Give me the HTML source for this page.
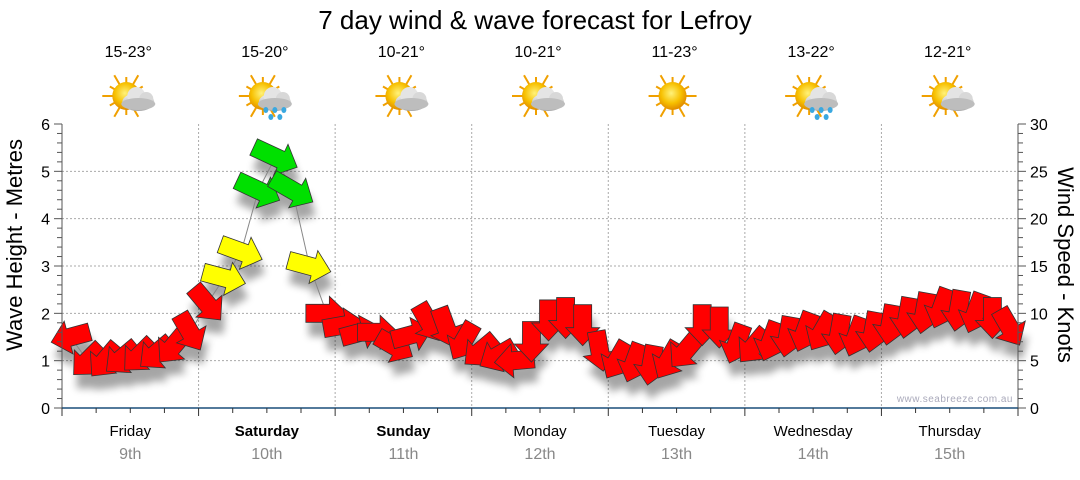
<!DOCTYPE html>
<html><head><meta charset="utf-8">
<style>
body{margin:0;background:#fff;width:1080px;height:475px;overflow:hidden;font-family:"Liberation Sans",sans-serif}
svg text{font-family:"Liberation Sans",sans-serif}
</style></head>
<body>
<svg id="c" width="1080" height="475">
<defs>
<filter id="sh" x="-50%" y="-50%" width="200%" height="200%"><feGaussianBlur stdDeviation="4"/></filter>
<radialGradient id="sun" cx="45%" cy="40%" r="60%"><stop offset="0" stop-color="#fff27a"/><stop offset="0.6" stop-color="#f7c000"/><stop offset="1" stop-color="#e08a00"/></radialGradient>
<linearGradient id="cl" x1="0" y1="0" x2="0" y2="1"><stop offset="0" stop-color="#f2f2f2"/><stop offset="1" stop-color="#a8a8a8"/></linearGradient>
</defs>
<text x="535" y="29" text-anchor="middle" font-size="26">7 day wind &amp; wave forecast for Lefroy</text>
<g id="grid"></g><g id="icons"></g><g id="shadow" filter="url(#sh)" opacity="0.35"></g><g id="marks"></g><g id="axes"></g>
<text x="1013" y="402" text-anchor="end" font-size="10" fill="#aab" letter-spacing="0.5">www.seabreeze.com.au</text>
<text transform="translate(22,245) rotate(-90)" text-anchor="middle" font-size="22">Wave Height - Metres</text>
<text transform="translate(1058,265) rotate(90)" text-anchor="middle" font-size="22">Wind Speed - Knots</text>
</svg>
<script>
const days=["Friday","Saturday","Sunday","Monday","Tuesday","Wednesday","Thursday"];
const dates=["9th","10th","11th","12th","13th","14th","15th"];
const temps=["15-23°","15-20°","10-21°","10-21°","11-23°","13-22°","12-21°"];
const weather=["cloud","rain","cloud","cloud","sun","rain","cloud"];
const waveTicks=[0,1,2,3,4,5,6];
const windTicks=[0,5,10,15,20,25,30];
const heights=[1.5,1.0,1.0,1.05,1.1,1.15,1.3,1.6, 2.2,2.75,3.3,4.6,5.3,4.6,3.0,2.0, 1.75,1.6,1.6,1.3,1.55,1.8,1.7,1.4, 1.2,1.1,1.0,1.4,1.85,1.9,1.75,1.2, 1.0,0.95,0.9,1.0,1.2,1.75,1.7,1.35, 1.3,1.4,1.5,1.6,1.6,1.55,1.5,1.6, 1.75,1.9,2.0,2.1,2.05,2.0,1.9,1.7];
const dirs=[165,135,130,140,135,140,130,60, 50,15,20,25,25,30,15,0, -10,-15,0,30,-15,60,70,120, 140,150,175,90,90,90,90,80, 120,110,100,120,130,90,90,110, 130,110,100,110,120,100,110,100, 100,100,100,110,100,110,90,60];
const speeds=[8,7,8,8,8,8,9,10, 12,16,17,22,24,22,16,11, 10,9,9,9,10,10,10,9, 8,8,8,9,10,10,10,9, 8,8,8,8,9,10,10,9, 8,9,9,9,9,9,9,9, 9,10,10,10,10,10,10,9];
const X0=62,X1=1018,Y0=408,Y1=124;
const xS=i=>X0+(i+0.5)*(X1-X0)/56;
const yS=v=>Y0-v*(Y0-Y1)/6;
const dayX=d=>X0+d*(X1-X0)/7;
const NS="http://www.w3.org/2000/svg";
function mk(p,t,a){const e=document.createElementNS(NS,t);for(const k in a)e.setAttribute(k,a[k]);p.appendChild(e);return e;}
const grid=document.getElementById('grid'),axes=document.getElementById('axes'),marks=document.getElementById('marks'),shadow=document.getElementById('shadow'),icons=document.getElementById('icons');
waveTicks.forEach((v,k)=>{
 if(v>0&&v<6){const g=mk(grid,'line',{x1:X0,x2:X1,y1:yS(v),y2:yS(v),stroke:'#aaa','stroke-dasharray':'2,2'});
 }
 const t=mk(axes,'text',{x:50,y:yS(v)+6,'text-anchor':'end','font-size':16});t.textContent=v;
 
 const t2=mk(axes,'text',{x:1030,y:yS(v)+6,'font-size':16});t2.textContent=windTicks[k];
 
});
for(let m=0;m<=30;m++){const y=yS(m*0.2);const L=m%5==0?8:5;
 mk(axes,'line',{x1:X0-L,x2:X0,y1:y,y2:y,stroke:'#555'});mk(axes,'line',{x1:X1,x2:X1+L,y1:y,y2:y,stroke:'#555'});}
mk(axes,'line',{x1:X0,x2:X0,y1:Y1,y2:Y0,stroke:'#555'});
mk(axes,'line',{x1:X1,x2:X1,y1:Y1,y2:Y0,stroke:'#555'});
mk(axes,'line',{x1:X0,x2:X1,y1:Y0,y2:Y0,stroke:'#1a4f7a','stroke-width':1.5});
for(let h=0;h<=28;h++){const x=X0+h*(X1-X0)/28;mk(axes,'line',{x1:x,x2:x,y1:Y0,y2:Y0+(h%4==0?8:5),stroke:'#333'});}
days.forEach((d,i)=>{
 if(i>0){const g=mk(grid,'line',{x1:dayX(i),x2:dayX(i),y1:Y1,y2:Y0,stroke:'#aaa','stroke-dasharray':'2,2'});
 }
 const cx=(dayX(i)+dayX(i+1))/2;
 const t=mk(axes,'text',{x:cx,y:436,'text-anchor':'middle','font-size':15,'font-weight':(i==1||i==2)?'bold':'normal'});t.textContent=d;
 
 const t2=mk(axes,'text',{x:cx,y:459,'text-anchor':'middle','font-size':16,fill:'#888'});t2.textContent=dates[i];
 
 const t3=mk(icons,'text',{x:cx-2,y:57,'text-anchor':'middle','font-size':16});t3.textContent=temps[i];
 
 const g=mk(icons,'g',{transform:`translate(${cx-4},96)`});
 
 for(let r=0;r<12;r++){const a=r*Math.PI/6;mk(g,'line',{x1:Math.cos(a)*12,y1:Math.sin(a)*12,x2:Math.cos(a)*(r%2?19:24),y2:Math.sin(a)*(r%2?19:24),stroke:'#f0a000','stroke-width':2});}
 mk(g,'circle',{cx:0,cy:0,r:14,fill:'url(#sun)'});
 if(weather[i]!='sun'){mk(g,'ellipse',{cx:12,cy:6,rx:16,ry:9,fill:'url(#cl)'});mk(g,'circle',{cx:10,cy:0,r:9,fill:'#e4e4e4'});mk(g,'circle',{cx:20,cy:3,r:7,fill:'#d8d8d8'});mk(g,'ellipse',{cx:12,cy:8,rx:17,ry:6,fill:'#bdbdbd'});}
 if(weather[i]=='rain'){[[3,14],[12,14],[21,14],[8,21],[17,21]].forEach(p=>mk(g,'ellipse',{cx:p[0],cy:p[1],rx:2.5,ry:3,fill:'#3aa8e0'}));}
});
let pts=heights.map((h,i)=>xS(i)+','+yS(h)).join(' ');
mk(marks,'polyline',{points:pts,fill:'none',stroke:'#888','stroke-width':1});
function arrowPath(L){const s=9,hw=17,hl=18;return `M${-L/2},${-s} L${L/2-hl},${-s} L${L/2-hl},${-hw} L${L/2},0 L${L/2-hl},${hw} L${L/2-hl},${s} L${-L/2},${s} Z`;}
heights.forEach((h,i)=>{
 const sp=speeds[i];const col=sp>=20?'#00e000':sp>=14?'#ffff00':'#ff0000';
 const L=36+sp*0.5;
 const tr=`translate(${xS(i)},${yS(h)}) rotate(${dirs[i]})`;
 mk(shadow,'path',{d:arrowPath(L),transform:`translate(${xS(i)+3},${yS(h)+14}) rotate(${dirs[i]})`,fill:'#000'});
 const a=mk(marks,'path',{d:arrowPath(L),transform:tr,fill:col,stroke:'#333','stroke-width':0.8});
 
 
});
</script>
</body></html>
